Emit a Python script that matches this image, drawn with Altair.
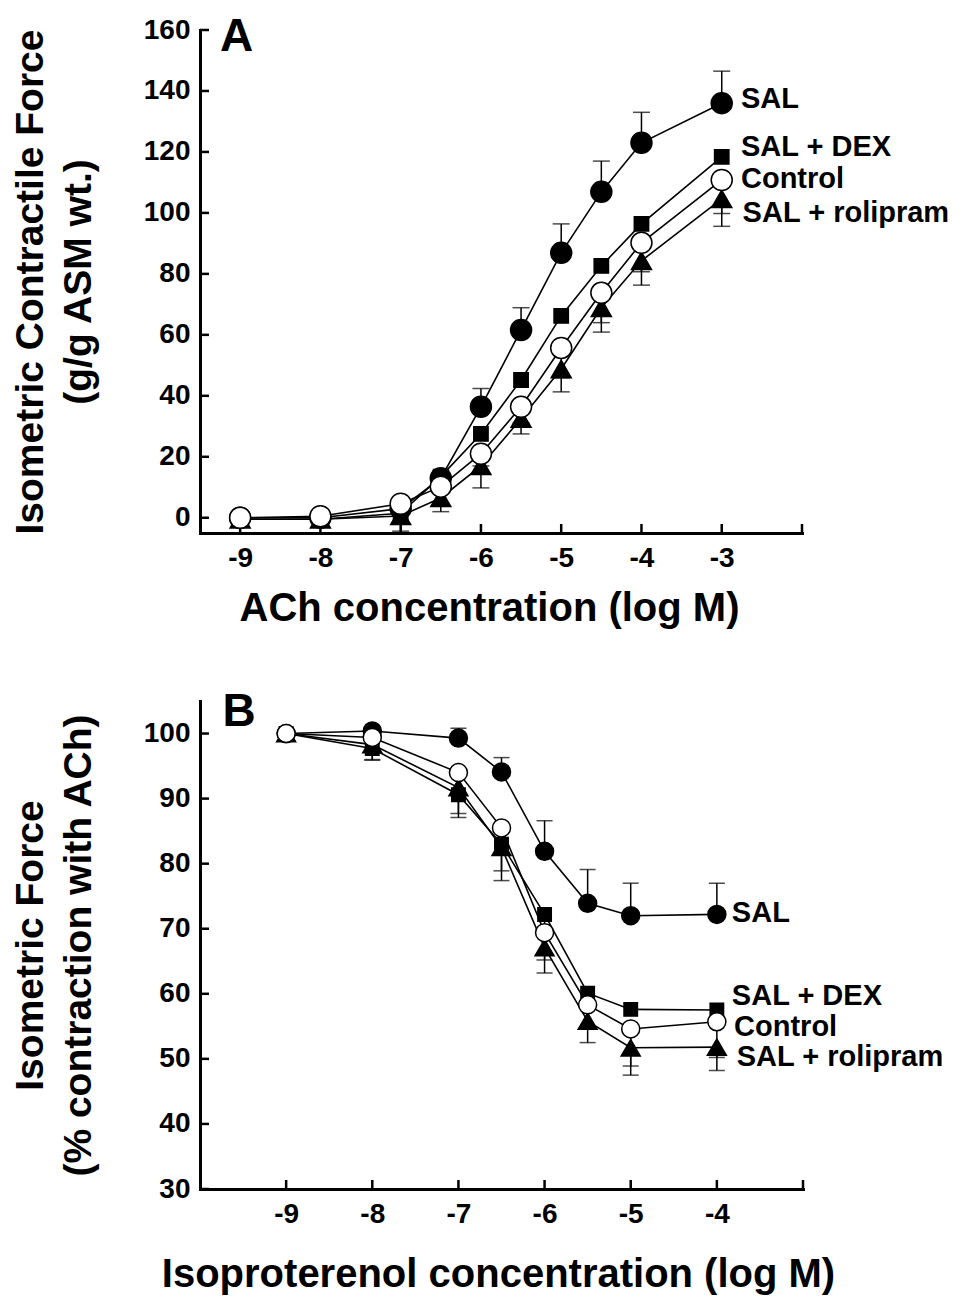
import altair as alt
import pandas as pd

FONT = "Liberation Sans"
SERIES = ["SAL", "SAL + DEX", "SAL + rolipram", "Control"]
SHAPES = ["circle", "square", "triangle-up", "circle"]
FILLS = ["black", "black", "black", "white"]

# ---------------- Panel A : ACh concentration-response ----------------
A_X = [-9, -8, -7, -6.5, -6, -5.5, -5, -4.5, -4, -3]
A_SAL = [0, 0, 3, 13, 36.4, 61.6, 86.9, 106.9, 123, 136]
A_SAL_UP = [0, 0, 0, 0, 6, 7.3, 9.5, 10.1, 10, 10.5]
A_SAL_DN = [0, 0, 0, 0, 0, 0, 0, 0, 0, 0]
A_DEX = [-0.5, -0.5, 1.5, 13.5, 27.5, 45.2, 66.2, 82.6, 96.4, 118.4]
A_DEX_UP = [0, 0, 0, 2, 0, 0, 0, 0, 0, 0]
A_DEX_DN = [0, 0, 0, 0, 0, 0, 0, 0, 0, 0]
A_ROL = [-0.5, -0.5, 0.6, 6.5, 17, 32.5, 48.8, 68.9, 84.3, 104.6]
A_ROL_UP = [0, 0, 0, 0, 0, 0, 0, 0, 0, 0]
A_ROL_DN = [2.5, 2.5, 5, 4.5, 7.2, 5, 7.5, 8, 8, 9]
A_CON = [0, 0.5, 4.6, 10.2, 21, 36.4, 55.7, 73.8, 90.2, 110.8]
A_CON_UP = [0, 0, 0, 0, 0, 0, 0, 0, 0, 0]
A_CON_DN = [0, 0, 0, 0, 4, 5.3, 9.8, 9.8, 9.5, 11]
A_YTICKS = [0, 20, 40, 60, 80, 100, 120, 140, 160]
A_XTICKS = [-9, -8, -7, -6, -5, -4, -3, -2]
A_XLABELS = [-9, -8, -7, -6, -5, -4, -3]
A_LABEL_X = [-2.76, -2.76, -2.74, -2.76]
A_LABEL_Y = [137.5, 121.5, 100.0, 111.0]

# ---------------- Panel B : Isoproterenol relaxation ----------------
B_X = [-9, -8, -7, -6.5, -6, -5.5, -5, -4]
B_SAL = [100, 100.4, 99.3, 94.1, 81.9, 73.9, 72.0, 72.2]
B_SAL_UP = [0, 0, 1.5, 2.2, 4.7, 5.2, 5.0, 4.8]
B_SAL_DN = [0, 0, 0, 0, 0, 0, 0, 0]
B_DEX = [100, 97.7, 90.6, 83.0, 72.2, 60.1, 57.6, 57.5]
B_DEX_UP = [0, 0, 0, 0, 0, 0, 0, 0]
B_DEX_DN = [0, 1.8, 2.9, 4.1, 3.0, 0, 0, 0]
B_ROL = [100, 98.3, 91.7, 82.5, 67.1, 55.8, 51.7, 51.8]
B_ROL_UP = [0, 0, 0, 0, 0, 0, 0, 0]
B_ROL_DN = [0, 2.3, 4.6, 5.1, 3.9, 3.3, 4.2, 3.6]
B_CON = [100, 99.4, 94.0, 85.5, 69.4, 58.3, 54.6, 55.7]
B_CON_UP = [0, 0, 0, 0, 0, 0, 0, 0]
B_CON_DN = [0, 0, 0, 0, 4.2, 0, 5.7, 5.5]
B_YTICKS = [30, 40, 50, 60, 70, 80, 90, 100]
B_XTICKS = [-9, -8, -7, -6, -5, -4, -3]
B_XLABELS = [-9, -8, -7, -6, -5, -4]
B_LABEL_X = [-3.826, -3.826, -3.77, -3.80]
B_LABEL_Y = [72.4, 59.6, 50.3, 54.9]


def panel(xs, vals, ups, dns, xdom, ydom, width, height, xticks, xlabels, yticks,
          ytitle, xtitle, xtitle_x, xtitle_pad, sizes, cap, label_x, label_y,
          letter, letter_x, letter_y):
    rows, errs = [], []
    for s, v_list, u_list, d_list in zip(SERIES, vals, ups, dns):
        for x, v, u, d in zip(xs, v_list, u_list, d_list):
            rows.append({"series": s, "x": x, "y": v})
            if u > 0:
                errs.append({"series": s, "x": x, "y0": v, "y1": v + u})
            if d > 0:
                errs.append({"series": s, "x": x, "y0": v, "y1": v - d})
    pts = pd.DataFrame(rows)
    err = pd.DataFrame(errs)

    xscale = alt.Scale(domain=xdom, nice=False, zero=False)
    yscale = alt.Scale(domain=ydom, nice=False, zero=False)
    xaxis = alt.Axis(values=xlabels, labelExpr="datum.value + ''", tickSize=0,
                     ticks=False, labelPadding=11, title=xtitle,
                     titleFontSize=40, titlePadding=xtitle_pad, titleX=xtitle_x,
                     titleAlign="center")
    yaxis = alt.Axis(values=yticks, format="d", tickSize=0, ticks=False,
                     labelPadding=10, title=ytitle, titleFontSize=39,
                     titlePadding=45, titleLineHeight=48)

    def X(f):
        return alt.X(f"{f}:Q", scale=xscale, axis=xaxis)

    def Y(f):
        return alt.Y(f"{f}:Q", scale=yscale, axis=yaxis)

    layers = []
    # inward axis ticks
    layers.append(alt.Chart(pd.DataFrame({"v": yticks})).mark_rule(
        color="black", strokeWidth=2.5).encode(
        y=Y("v"), x=alt.value(0), x2=alt.value(9)))
    layers.append(alt.Chart(pd.DataFrame({"v": xticks})).mark_rule(
        color="black", strokeWidth=2.5).encode(
        x=X("v"), y=alt.value(height), y2=alt.value(height - 9)))
    # error bars
    layers.append(alt.Chart(err).mark_rule(color="black", strokeWidth=1.5).encode(
        x=X("x"), y=Y("y0"), y2="y1"))
    layers.append(alt.Chart(err).mark_tick(
        orient="horizontal", color="black", size=cap, thickness=1.5).encode(
        x=X("x"), y=Y("y1")))
    # connecting lines
    layers.append(alt.Chart(pts).mark_line(color="black", strokeWidth=1.6).encode(
        x=X("x"), y=Y("y"), detail="series:N"))
    # markers
    for s, shp, fill, sz in zip(SERIES, SHAPES, FILLS, sizes):
        layers.append(alt.Chart(pts[pts.series == s]).mark_point(
            shape=shp, filled=True, fill=fill, stroke="black", strokeWidth=1.5,
            size=sz, opacity=1).encode(x=X("x"), y=Y("y")))
    # series labels
    lab = pd.DataFrame({"t": SERIES, "x": label_x, "y": label_y})
    layers.append(alt.Chart(lab).mark_text(
        align="left", baseline="middle", font=FONT, fontWeight="bold",
        fontSize=29, color="black").encode(x=X("x"), y=Y("y"), text="t:N"))
    # panel letter
    let = pd.DataFrame({"t": [letter], "x": [letter_x], "y": [letter_y]})
    layers.append(alt.Chart(let).mark_text(
        align="left", baseline="middle", font=FONT, fontWeight="bold",
        fontSize=46, color="black").encode(x=X("x"), y=Y("y"), text="t:N"))
    return alt.layer(*layers).properties(width=width, height=height)


chartA = panel(
    A_X, [A_SAL, A_DEX, A_ROL, A_CON], [A_SAL_UP, A_DEX_UP, A_ROL_UP, A_CON_UP],
    [A_SAL_DN, A_DEX_DN, A_ROL_DN, A_CON_DN], [-9.5, -2], [-5, 160], 602, 503,
    A_XTICKS, A_XLABELS, A_YTICKS,
    ["Isometric Contractile Force", "(g/g ASM wt.)"], "ACh concentration (log M)",
    289, 16, [441, 205, 400, 441], 17, A_LABEL_X, A_LABEL_Y, "A", -9.25, 157.6)

chartB = panel(
    B_X, [B_SAL, B_DEX, B_ROL, B_CON], [B_SAL_UP, B_DEX_UP, B_ROL_UP, B_CON_UP],
    [B_SAL_DN, B_DEX_DN, B_ROL_DN, B_CON_DN], [-10, -3], [30, 105], 603, 488,
    B_XTICKS, B_XLABELS, B_YTICKS,
    ["Isometric Force", "(% contraction with ACh)"],
    "Isoproterenol concentration (log M)",
    298, 26, [324, 180, 360, 324], 16, B_LABEL_X, B_LABEL_Y, "B", -9.74, 103.3)

chart = alt.vconcat(chartA, chartB, spacing=168, bounds="flush").properties(
    padding={"left": 3, "top": 6, "right": 5, "bottom": 5}
).configure_view(stroke=None).configure_axis(
    domainColor="black", domainWidth=3, domainCap="square", grid=False,
    labelFont=FONT, labelFontWeight="bold", labelFontSize=28, labelColor="black",
    titleFont=FONT, titleFontWeight="bold", titleColor="black"
)

chart.save("out.html", embed_options={"renderer": "svg", "actions": False})
